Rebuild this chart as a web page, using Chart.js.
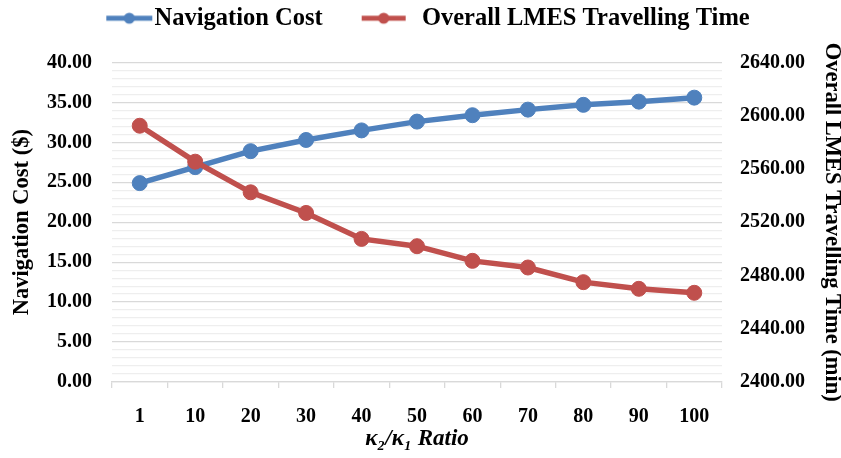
<!DOCTYPE html>
<html>
<head>
<meta charset="utf-8">
<script src="https://cdn.jsdelivr.net/npm/chart.js@4.4.1/dist/chart.umd.min.js"></script>
<style>
  html, body { margin: 0; padding: 0; background: #ffffff; }
  canvas { display: block; }
</style>
</head>
<body>
<canvas id="chart" width="841" height="458"></canvas>
<script>
// κ2/κ1 ratio categories
const ratioLabels = ['1', '10', '20', '30', '40', '50', '60', '70', '80', '90', '100'];
// Navigation cost ($), left axis
const navigationCost = [24.9, 26.9, 28.9, 30.3, 31.5, 32.6, 33.4, 34.1, 34.7, 35.1, 35.6];
// Overall LMES travelling time (min), right axis
const travellingTime = [2592.5, 2565.5, 2542.5, 2527, 2507.5, 2502, 2491, 2486, 2475, 2470, 2467];
// Axis ranges
const costAxis = { min: 0, max: 40, major: 5, minor: 1 };
const timeAxis = { min: 2400, max: 2640, step: 40 };

const BLUE = '#4F81BD';
const RED = '#C0504D';
const SERIF = "'Liberation Serif', 'Times New Roman', serif";

const SWATCH_W = 81;      // legend box width
const LEGEND_PAD = 6;

// Legend swatch: a short thick line with a dot in the middle
function swatch(color, start, end) {
  const c = document.createElement('canvas');
  c.width = SWATCH_W + 24;
  c.height = 16;
  const g = c.getContext('2d');
  g.strokeStyle = color;
  g.lineWidth = 5;
  g.beginPath();
  g.moveTo(start, 8);
  g.lineTo(end, 8);
  g.stroke();
  g.fillStyle = color;
  g.beginPath();
  g.arc((start + end) / 2, 8, 5.5, 0, Math.PI * 2);
  g.fill();
  return c;
}
const swatches = [
  swatch(BLUE, SWATCH_W - 24, SWATCH_W + 22),
  swatch(RED, SWATCH_W - 36, SWATCH_W + 8)
];

// Nudges the legend row sideways after layout
const legendShift = {
  id: 'legendShift',
  afterLayout(chart, args, opts) {
    const l = chart.legend;
    if (l && opts.dx) { l.left += opts.dx; l.right += opts.dx; }
  }
};

new Chart(document.getElementById('chart'), {
  type: 'line',
  data: {
    labels: ratioLabels,
    datasets: [
      {
        label: 'Navigation Cost',
        data: navigationCost,
        yAxisID: 'yCost',
        borderColor: BLUE,
        backgroundColor: BLUE,
        borderWidth: 5.5,
        pointRadius: 7.5,
        pointBorderWidth: 1,
        pointBackgroundColor: BLUE,
        pointBorderColor: BLUE,
        tension: 0,
        order: 1
      },
      {
        label: 'Overall LMES Travelling Time',
        data: travellingTime,
        yAxisID: 'yTime',
        borderColor: RED,
        backgroundColor: RED,
        borderWidth: 5.5,
        pointRadius: 7.5,
        pointBorderWidth: 1,
        pointBackgroundColor: RED,
        pointBorderColor: RED,
        tension: 0,
        order: 0
      }
    ]
  },
  options: {
    responsive: false,
    animation: false,
    devicePixelRatio: 1,
    layout: { padding: 0 },
    plugins: {
      tooltip: { enabled: false },
      legendShift: { dx: -15 },
      title: {
        display: true,
        text: '',
        weight: 500,
        font: { size: 10, lineHeight: 1 },
        padding: { top: 12, bottom: 0 }
      },
      legend: {
        position: 'top',
        labels: {
          usePointStyle: true,
          pointStyleWidth: SWATCH_W,
          padding: LEGEND_PAD,
          color: '#000000',
          font: { family: SERIF, size: 24.5, weight: 'bold' },
          sort: (a, b) => a.datasetIndex - b.datasetIndex,
          generateLabels(chart) {
            const items = Chart.defaults.plugins.legend.labels.generateLabels(chart);
            return items.map(it => Object.assign({}, it, { pointStyle: swatches[it.datasetIndex] }));
          }
        }
      }
    },
    scales: {
      x: {
        type: 'category',
        offset: true,
        afterFit: s => { s.height = 76; },
        grid: {
          offset: true,
          drawOnChartArea: false,
          drawTicks: true,
          tickLength: 6,
          color: '#d9d9d9',
          lineWidth: 1.3
        },
        border: { display: true, color: '#d9d9d9', width: 1.3 },
        ticks: {
          color: '#000000',
          padding: 17,
          font: { family: SERIF, size: 20, weight: 'bold' }
        },
        title: {
          display: true,
          text: 'κ₂/κ₁ Ratio',
          color: '#000000',
          font: { family: SERIF, size: 23, weight: 'bold', style: 'italic', lineHeight: 1 },
          padding: { top: 0, bottom: 7 }
        }
      },
      yCost: {
        type: 'linear',
        position: 'left',
        min: costAxis.min,
        max: costAxis.max,
        afterFit: s => { s.width = 112; },
        border: { display: false },
        grid: {
          drawTicks: false,
          lineWidth: 1.3,
          color: ctx => (ctx.tick && ctx.tick.value % costAxis.major === 0) ? '#d9d9d9' : '#eeeeee'
        },
        ticks: {
          stepSize: costAxis.minor,
          autoSkip: false,
          padding: 20,
          color: '#000000',
          font: { family: SERIF, size: 20, weight: 'bold' },
          callback: v => (v % costAxis.major === 0) ? v.toFixed(2) : ''
        },
        title: {
          display: true,
          text: 'Navigation Cost ($)',
          color: '#000000',
          font: { family: SERIF, size: 22.5, weight: 'bold', lineHeight: 1 },
          padding: { top: 11, bottom: 0 }
        }
      },
      yTime: {
        type: 'linear',
        position: 'right',
        min: timeAxis.min,
        max: timeAxis.max,
        afterFit: s => { s.width = 119; },
        border: { display: false },
        grid: { drawOnChartArea: false, drawTicks: false },
        ticks: {
          stepSize: timeAxis.step,
          padding: 18,
          color: '#000000',
          font: { family: SERIF, size: 20, weight: 'bold' },
          callback: v => v.toFixed(2)
        },
        title: {
          display: true,
          text: 'Overall LMES Travelling Time (min)',
          color: '#000000',
          font: { family: SERIF, size: 22.5, weight: 'bold', lineHeight: 1 },
          padding: { top: -2, bottom: 0 }
        }
      }
    }
  },
  plugins: [legendShift]
});
</script>
</body>
</html>
